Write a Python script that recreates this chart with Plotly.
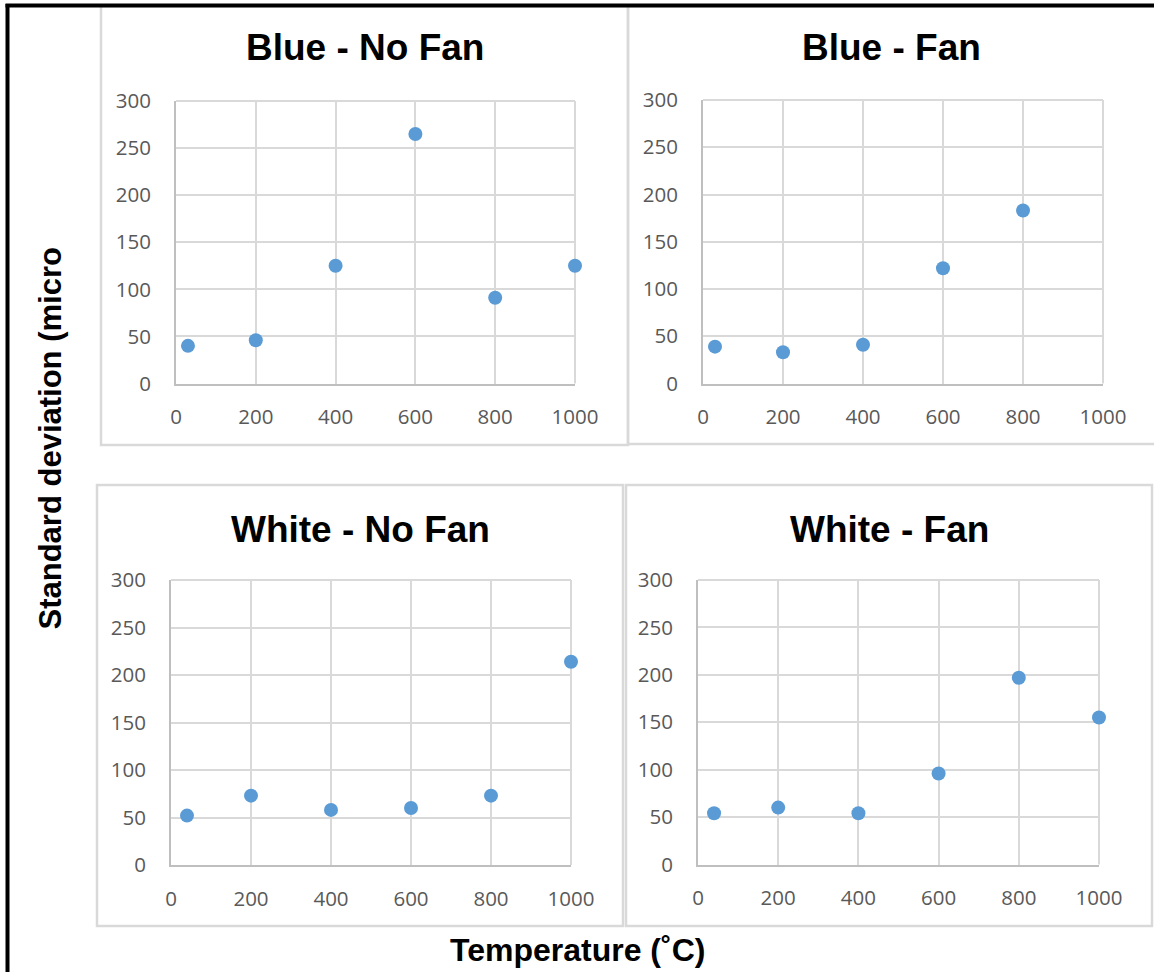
import plotly.graph_objects as go

W, H = 1154, 972

# Temperature (°C) and standard deviation readings for each panel
panel_titles = ["Blue - No Fan", "Blue - Fan", "White - No Fan", "White - Fan"]

blue_nofan_x = [30, 200, 400, 600, 800, 1000]
blue_nofan_y = [40, 46, 125, 265, 91, 125]

blue_fan_x = [30, 200, 400, 600, 800]
blue_fan_y = [39, 33, 41, 122, 183]

white_nofan_x = [40, 200, 400, 600, 800, 1000]
white_nofan_y = [52, 73, 58, 60, 73, 214]

white_fan_x = [40, 200, 400, 600, 800, 1000]
white_fan_y = [54, 60, 54, 96, 197, 155]

x_ticks = [0, 200, 400, 600, 800, 1000]
y_ticks = [0, 50, 100, 150, 200, 250, 300]

series = [
    (blue_nofan_x, blue_nofan_y),
    (blue_fan_x, blue_fan_y),
    (white_nofan_x, white_nofan_y),
    (white_fan_x, white_fan_y),
]

# pixel layout: plot areas (left, right, top, bottom) and panel frames
plot_boxes = [
    (176, 575, 101, 383.5),
    (703, 1103, 100, 383.5),
    (171, 571, 580, 865),
    (698, 1099, 580, 864.5),
]
frames = [
    (101, 628, 6, 445),
    (628, 1160, 6, 444),
    (97, 623, 485, 926),
    (626, 1152, 485, 926),
]
title_y = [47, 47, 529, 529]

MARKER = "#5b9bd5"
GRID = "#d9d9d9"
AXLINE = "#bfbfbf"
TICKFONT = dict(family="Open Sans", size=20.5, color="#595959")


def px_x(v):
    return v / W


def px_y(v):
    return 1 - v / H


fig = go.Figure()
layout = dict(
    width=W, height=H,
    margin=dict(l=0, r=0, t=0, b=0, autoexpand=False),
    paper_bgcolor="white", plot_bgcolor="white",
    showlegend=False,
)
shapes = []
annotations = []

for i, ((xs, ys), box, fr, ttl, ty) in enumerate(zip(series, plot_boxes, frames, panel_titles, title_y)):
    n = "" if i == 0 else str(i + 1)
    fig.add_trace(go.Scatter(
        x=xs, y=ys, mode="markers",
        marker=dict(color=MARKER, size=14, line=dict(width=0)),
        xaxis="x" + n, yaxis="y" + n, cliponaxis=False,
    ))
    l, r, t, b = box
    layout["xaxis" + n] = dict(
        domain=[px_x(l), px_x(r)], range=[0, 1000], anchor="y" + n,
        tickvals=x_ticks, ticktext=[str(v) for v in x_ticks],
        showgrid=True, gridcolor=GRID, gridwidth=2,
        showline=True, linecolor=AXLINE, linewidth=2,
        zeroline=False, ticks="", tickfont=TICKFONT, automargin=False,
        ticklabelstandoff=14, fixedrange=True,
    )
    layout["yaxis" + n] = dict(
        domain=[px_y(b), px_y(t)], range=[0, 300], anchor="x" + n,
        tickvals=y_ticks, ticktext=[str(v) for v in y_ticks],
        showgrid=True, gridcolor=GRID, gridwidth=2,
        showline=True, linecolor=AXLINE, linewidth=2,
        zeroline=False, ticks="", tickfont=TICKFONT, automargin=False,
        ticklabelstandoff=19, fixedrange=True,
    )
    # right and top grid edges of the plot area
    shapes.append(dict(type="line", xref=f"x{n} domain", yref=f"y{n} domain",
                       x0=1, x1=1, y0=0, y1=1, line=dict(color=GRID, width=2), layer="below"))
    shapes.append(dict(type="line", xref=f"x{n} domain", yref=f"y{n} domain",
                       x0=0, x1=1, y0=1, y1=1, line=dict(color=GRID, width=2), layer="below"))
    fl, frr, ft, fb = fr
    shapes.append(dict(
        type="rect", xref="paper", yref="paper",
        x0=px_x(fl), x1=px_x(frr), y0=px_y(fb), y1=px_y(ft),
        line=dict(color=GRID, width=2.5), fillcolor="rgba(0,0,0,0)", layer="below",
    ))
    annotations.append(dict(
        text=f"<b>{ttl}</b>", xref="paper", yref="paper",
        x=px_x((fl + min(frr, W)) / 2), y=px_y(ty), xanchor="center", yanchor="middle",
        showarrow=False, font=dict(family="Liberation Sans", size=37, color="black"),
    ))

# outer black frame on the top and left
shapes.append(dict(type="line", xref="paper", yref="paper",
                   x0=px_x(5.5), x1=1.0, y0=px_y(5.5), y1=px_y(5.5),
                   line=dict(color="black", width=4)))
shapes.append(dict(type="line", xref="paper", yref="paper",
                   x0=px_x(7.5), x1=px_x(7.5), y0=0.0, y1=px_y(4),
                   line=dict(color="black", width=4)))

annotations.append(dict(
    text="<b>Standard deviation (micro</b>", xref="paper", yref="paper",
    x=px_x(50), y=px_y(438.5), xanchor="center", yanchor="middle", textangle=-90,
    showarrow=False, font=dict(family="Liberation Sans", size=31, color="black"),
))
annotations.append(dict(
    text="<b>Temperature (˚C)</b>", xref="paper", yref="paper",
    x=px_x(577), y=px_y(950), xanchor="center", yanchor="middle",
    showarrow=False, font=dict(family="Liberation Sans", size=32, color="black"),
))

layout["shapes"] = shapes
layout["annotations"] = annotations
fig.update_layout(**layout)
fig.write_html("out.html", config={"displayModeBar": False})
